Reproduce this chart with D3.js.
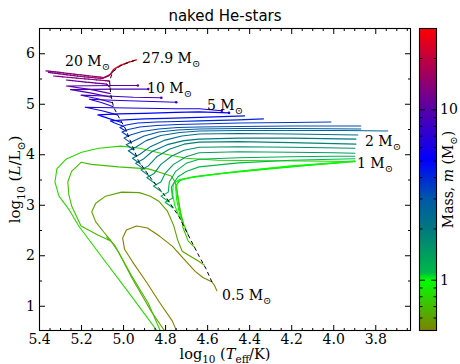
<!DOCTYPE html>
<html><head><meta charset="utf-8">
<script src="https://cdn.jsdelivr.net/npm/d3@7"></script>
<style>body{margin:0;background:#fff}svg{display:block}</style>
</head><body>
<svg id="c" width="460" height="364"></svg>
<script>
// ---------------- DATA ----------------
// axis tick values
const xMajorTicks = [5.4, 5.2, 5.0, 4.8, 4.6, 4.4, 4.2, 4.0, 3.8];
const yMajorTicks = [1, 2, 3, 4, 5, 6];
const cbMajorTicks = [1, 10];
const cbMinorTicks = [0.6, 0.7, 0.8, 0.9, 2, 3, 4, 5, 6, 7, 8, 9, 20];

// colour map for mass
const cmapMass = [0.5, 1.0, 1.1, 2.0, 3.0, 5.0, 10, 30];
const cmapColor = ["#808000", "#00ff00", "#00b848", "#007880", "#0058a8", "#0000ff", "#5800a8", "#ff0000"];

// He zero-age main sequence (dashed)
const zamsLogT = [4.577, 4.605, 4.638, 4.685, 4.733, 4.799, 4.865, 4.927, 4.988, 5.021, 5.045, 5.059, 5.064, 5.050, 5.012, 4.979, 4.936];
const zamsLogL = [1.47, 1.73, 1.98, 2.36, 2.76, 3.17, 3.51, 3.87, 4.50, 4.74, 4.93, 5.19, 5.45, 5.63, 5.75, 5.81, 5.87];

// evolutionary tracks: [log Teff, log L] (optional 3rd value: current mass)
const t05 = [[4.553,1.29],[4.565,1.40],[4.577,1.47],[4.600,1.52],[4.620,1.56],[4.657,1.68],[4.709,1.92],[4.766,2.18],[4.827,2.38],[4.884,2.54],[4.936,2.58],[4.984,2.50],[5.002,2.34],[4.993,2.12],[4.955,1.87],[4.889,1.47],[4.827,1.07],[4.766,0.70],[4.735,0.40]];
const t06 = [[4.612,1.80],[4.640,1.88],[4.680,1.98],[4.719,2.08],[4.740,2.30],[4.760,2.60],[4.790,2.88],[4.830,3.07],[4.870,3.17],[4.922,3.24],[5.007,3.25],[5.083,3.17],[5.130,3.03],[5.149,2.86],[5.130,2.66],[5.092,2.46],[5.060,2.30],[5.020,2.05],[4.955,1.53],[4.865,0.88],[4.785,0.40]];
const t07 = [[4.658,2.15],[4.690,2.28],[4.715,2.55],[4.730,2.95],[4.742,3.25],[4.752,3.45],[4.771,3.57],[4.800,3.61],[4.879,3.71],[5.021,3.75],[5.150,3.80],[5.200,3.84],[5.245,3.66],[5.263,3.45],[5.258,3.20],[5.244,2.97],[5.200,2.58],[5.120,2.40],[5.059,2.28],[5.078,2.36],[5.040,2.20],[4.960,1.60],[4.880,1.05],[4.812,0.40]];
const t08 = [[4.690,2.40],[4.710,2.60],[4.730,2.90],[4.742,3.20],[4.745,3.40],[4.725,3.50],[4.660,3.56],[4.500,3.64],[4.300,3.72],[4.100,3.79],[3.895,3.85],[4.000,3.86],[4.300,3.87],[4.550,3.88],[4.700,3.92],[4.820,4.02],[4.920,4.12],[5.010,4.16],[5.116,4.12],[5.197,4.04],[5.272,3.90],[5.315,3.71],[5.324,3.45],[5.305,3.17],[5.258,2.91],[5.211,2.58],[5.100,1.96],[4.980,1.30],[4.820,0.40]];
const t09 = [[4.714,2.60],[4.730,2.80],[4.745,3.10],[4.750,3.35],[4.735,3.47],[4.680,3.54],[4.550,3.61],[4.300,3.71],[4.100,3.79],[3.895,3.86]];
const t10 = [[4.735,2.78],[4.755,3.00],[4.765,3.25],[4.760,3.42],[4.730,3.50],[4.638,3.56],[4.450,3.66],[4.200,3.77],[4.000,3.83],[3.895,3.87]];
const t11 = [[4.760,2.93],[4.800,3.05],[4.765,3.13],[4.770,3.35],[4.740,3.55],[4.700,3.66],[4.638,3.75],[4.450,3.83],[4.200,3.88],[4.000,3.90],[3.895,3.91]];
const t12 = [[4.779,3.05],[4.820,3.17],[4.785,3.25],[4.780,3.45],[4.750,3.66],[4.700,3.82],[4.638,3.90],[4.450,3.93],[4.200,3.95],[4.000,3.96],[3.895,3.96]];
const t14 = [[4.815,3.25],[4.855,3.37],[4.820,3.45],[4.800,3.62],[4.760,3.80],[4.700,3.95],[4.638,4.03],[4.450,4.05],[4.200,4.04],[4.000,4.03],[3.895,4.02]];
const t16 = [[4.847,3.42],[4.887,3.54],[4.852,3.62],[4.820,3.80],[4.770,3.96],[4.710,4.08],[4.638,4.14],[4.450,4.15],[4.200,4.14],[3.895,4.12]];
const t18 = [[4.875,3.57],[4.915,3.69],[4.880,3.77],[4.840,3.95],[4.780,4.10],[4.710,4.20],[4.638,4.24],[4.450,4.25],[4.200,4.23],[3.890,4.20]];
const t20 = [[4.898,3.70],[4.940,3.82],[4.905,3.90],[4.860,4.06],[4.790,4.19],[4.710,4.27],[4.638,4.30],[4.450,4.32],[4.200,4.32],[3.890,4.30]];
const t22 = [[4.915,3.80],[4.955,3.92],[4.920,4.00],[4.870,4.15],[4.800,4.28],[4.720,4.36],[4.638,4.40],[4.450,4.41],[4.200,4.40],[3.881,4.38]];
const t25 = [[4.935,3.95],[4.975,4.07],[4.940,4.14],[4.890,4.27],[4.820,4.37],[4.730,4.43],[4.638,4.46],[4.450,4.47],[4.200,4.47],[3.950,4.47],[3.739,4.46]];
const t28 = [[4.947,4.08],[4.985,4.19],[4.950,4.26],[4.900,4.36],[4.830,4.44],[4.740,4.48],[4.638,4.50],[4.450,4.51],[4.200,4.51],[3.867,4.50]];
const t32 = [[4.961,4.22],[4.995,4.32],[4.965,4.38],[4.910,4.45],[4.830,4.50],[4.740,4.53],[4.638,4.54],[4.450,4.55],[4.200,4.56],[3.867,4.56]];
const t36 = [[4.974,4.35],[5.005,4.44],[4.975,4.49],[4.920,4.54],[4.840,4.57],[4.740,4.59],[4.638,4.60],[4.450,4.62],[4.200,4.63],[4.009,4.64]];
const t40 = [[4.983,4.45],[5.015,4.53],[4.985,4.58],[4.930,4.62],[4.840,4.64],[4.740,4.65],[4.638,4.66],[4.450,4.68],[4.330,4.70]];
const t45 = [[4.995,4.55],[5.040,4.62],[5.060,4.66],[4.990,4.68],[4.900,4.70],[4.800,4.71],[4.638,4.73],[4.420,4.76]];
const t50 = [[5.006,4.63],[5.070,4.71],[5.120,4.78],[5.020,4.80],[4.900,4.81],[4.750,4.83],[4.638,4.84],[4.496,4.82]];
const t60 = [[5.026,4.78],[5.100,4.86],[5.180,4.93],[5.050,4.92],[4.900,4.91],[4.750,4.90],[4.638,4.90],[4.530,4.86]];
const t70 = [[5.046,4.94],[5.100,5.02],[5.160,5.09],[5.050,5.07],[4.900,5.05],[4.747,5.03]];
const t80 = [[5.050,5.02],[5.120,5.10],[5.200,5.17],[5.050,5.15],[4.950,5.13],[4.818,5.12]];
const t90 = [[5.056,5.13],[5.150,5.21],[5.250,5.28],[5.050,5.29],[4.880,5.29]];
const t100 = [[5.059,5.20],[5.150,5.28],[5.270,5.35],[5.050,5.36],[4.930,5.36]];
const t120 = [[5.062,5.33,12],[5.080,5.39,11.6],[5.180,5.43,11.2],[5.270,5.47,10.9]];
const t150 = [[5.064,5.45,15],[5.090,5.46,13.8],[5.200,5.50,13],[5.330,5.55,12.4]];
const t200 = [[5.050,5.63,20],[5.070,5.55,17.5],[5.100,5.50,15.5],[5.200,5.54,14],[5.300,5.59,13.2],[5.355,5.62,12.8]];
const t279 = [[4.936,5.87,27.9],[4.975,5.82,26],[5.012,5.76,24],[5.045,5.68,21],[5.060,5.58,18],[5.090,5.52,15.5],[5.200,5.57,14],[5.300,5.62,13.3],[5.367,5.65,13]];

const trackMass = [0.5, 0.6, 0.7, 0.8, 0.9, 1.0, 1.1, 1.2, 1.4, 1.6, 1.8, 2.0, 2.2, 2.5, 2.8, 3.2, 3.6, 4.0, 4.5, 5, 6, 7, 8, 9, 10, 12, 15, 20, 27.9];
const trackPoints = [t05, t06, t07, t08, t09, t10, t11, t12, t14, t16, t18, t20, t22, t25, t28, t32, t36, t40, t45, t50, t60, t70, t80, t90, t100, t120, t150, t200, t279];

// mass annotations
const labelMass = ["27.9", "20", "10", "5", "2", "1", "0.5"];
const labelLogT = [4.910, 5.276, 4.886, 4.601, 3.849, 3.887, 4.529];
const labelLogL = [5.807, 5.748, 5.222, 4.876, 4.164, 3.728, 1.114];

// ---------------- DRAW ----------------
const svg = d3.select("#c");
const serif = "'DejaVu Serif', 'Liberation Serif', serif";
const L = 39, R = 411, T = 28, B = 331;
const x = d3.scaleLinear().domain([5.4, 3.63]).range([L, R]);
const y = d3.scaleLinear().domain([0.5, 6.5]).range([B, T]);
const cmap = d3.scaleLog().domain(cmapMass).range(cmapColor).interpolate(d3.interpolateRgb).clamp(true);

const defs = svg.append("defs");
defs.append("clipPath").attr("id", "clip").append("rect")
  .attr("x", L).attr("y", T).attr("width", R - L).attr("height", B - T);

const gT = svg.append("g").attr("clip-path", "url(#clip)");
const line = d3.line().x(d => x(d[0])).y(d => y(d[1]));

trackPoints.forEach((pts, i) => {
  const m0 = trackMass[i];
  const varying = pts.some(p => p.length > 2);
  if (!varying) {
    gT.append("path").attr("d", line(pts)).attr("fill", "none")
      .attr("stroke", cmap(m0)).attr("stroke-width", 1.1)
      .attr("stroke-linejoin", "round");
  } else {
    for (let j = 0; j < pts.length - 1; j++) {
      const a = pts[j], b = pts[j + 1];
      const ma = a[2] ?? m0, mb = b[2] ?? m0;
      const n = 6;
      for (let k = 0; k < n; k++) {
        const f0 = k / n, f1 = (k + 1) / n, fm = (f0 + f1) / 2;
        gT.append("line")
          .attr("x1", x(a[0] + (b[0] - a[0]) * f0)).attr("y1", y(a[1] + (b[1] - a[1]) * f0))
          .attr("x2", x(a[0] + (b[0] - a[0]) * f1)).attr("y2", y(a[1] + (b[1] - a[1]) * f1))
          .attr("stroke", cmap(ma + (mb - ma) * fm)).attr("stroke-width", 1.2)
          .attr("stroke-linecap", "round");
      }
    }
  }
  if (m0 >= 5 && m0 <= 10) {
    const e = pts[pts.length - 1];
    gT.append("circle").attr("cx", x(e[0])).attr("cy", y(e[1])).attr("r", 1.3).attr("fill", cmap(m0));
  }
});

// ZAMS
gT.append("path").attr("d", line(zamsLogT.map((t, i) => [t, zamsLogL[i]])))
  .attr("fill", "none").attr("stroke", "#000").attr("stroke-width", 1)
  .attr("stroke-dasharray", "4,3");

// rich text helper
function rich(sel, parts, size) {
  let shift = 0;
  parts.forEach(p => {
    const ts = sel.append("tspan").text(p.t);
    const target = p.sub ? size * 0.3 : 0;
    if (target - shift !== 0) ts.attr("dy", target - shift);
    shift = target;
    if (p.sub) ts.attr("font-size", size * 0.72);
    if (p.it) ts.attr("font-style", "italic");
  });
}

// annotations
labelMass.forEach((lab, i) => {
  const t = svg.append("text").attr("x", x(labelLogT[i])).attr("y", y(labelLogL[i]))
    .attr("font-family", serif).attr("font-size", 14).attr("fill", "#000");
  rich(t, [{t: lab + " M"}, {t: "\u2299", sub: true}], 14);
});

// axes
const xMinor = d3.range(5.35, 3.62, -0.05).filter(v => !xMajorTicks.some(m => Math.abs(m - v) < 1e-6));
const yMinor = [1.5, 2.5, 3.5, 4.5, 5.5];
function style(g) {
  g.select(".domain").remove();
  g.selectAll("line").attr("stroke", "#000");
  g.selectAll("text").attr("font-family", serif).attr("font-size", 14).attr("fill", "#000");
}
svg.append("g").attr("transform", `translate(0,${B})`)
  .call(d3.axisBottom(x).tickValues(xMajorTicks).tickSizeInner(-6).tickSizeOuter(0).tickPadding(3).tickFormat(d3.format(".1f"))).call(style);
svg.append("g").attr("transform", `translate(0,${B})`)
  .call(d3.axisBottom(x).tickValues(xMinor).tickSizeInner(-3).tickSizeOuter(0).tickFormat("")).call(style);
svg.append("g").attr("transform", `translate(0,${T})`)
  .call(d3.axisTop(x).tickValues(xMajorTicks).tickSizeInner(-6).tickSizeOuter(0).tickFormat("")).call(style);
svg.append("g").attr("transform", `translate(0,${T})`)
  .call(d3.axisTop(x).tickValues(xMinor).tickSizeInner(-3).tickSizeOuter(0).tickFormat("")).call(style);
svg.append("g").attr("transform", `translate(${L},0)`)
  .call(d3.axisLeft(y).tickValues(yMajorTicks).tickSizeInner(-6).tickSizeOuter(0).tickPadding(4).tickFormat(d3.format("d"))).call(style);
svg.append("g").attr("transform", `translate(${L},0)`)
  .call(d3.axisLeft(y).tickValues(yMinor).tickSizeInner(-3).tickSizeOuter(0).tickFormat("")).call(style);
svg.append("g").attr("transform", `translate(${R},0)`)
  .call(d3.axisRight(y).tickValues(yMajorTicks).tickSizeInner(-6).tickSizeOuter(0).tickFormat("")).call(style);
svg.append("g").attr("transform", `translate(${R},0)`)
  .call(d3.axisRight(y).tickValues(yMinor).tickSizeInner(-3).tickSizeOuter(0).tickFormat("")).call(style);

svg.append("rect").attr("x", L + 0.5).attr("y", T + 0.5).attr("width", R - L - 1).attr("height", B - T - 1)
  .attr("fill", "none").attr("stroke", "#000").attr("stroke-width", 1.1);

// title & axis labels
svg.append("text").attr("x", (L + R) / 2).attr("y", 21).attr("text-anchor", "middle")
  .attr("font-family", "'DejaVu Sans', sans-serif").attr("font-size", 15).text("naked He-stars");

const xl = svg.append("text").attr("x", (L + R) / 2).attr("y", 359).attr("text-anchor", "middle")
  .attr("font-family", serif).attr("font-size", 14.5);
rich(xl, [{t: "log"}, {t: "10", sub: true}, {t: " ("}, {t: "T", it: true}, {t: "eff", sub: true}, {t: "/K)"}], 14.5);

const yl = svg.append("text").attr("transform", `translate(20,${(T + B) / 2}) rotate(-90)`).attr("text-anchor", "middle")
  .attr("font-family", serif).attr("font-size", 15);
rich(yl, [{t: "log"}, {t: "10", sub: true}, {t: " ("}, {t: "L", it: true}, {t: "/L"}, {t: "\u2299", sub: true}, {t: ")"}], 15);

// colorbar
const cbL = 419, cbR = 437;
const cb = d3.scaleLog().domain([0.5, 30]).range([B, T]);
const grad = defs.append("linearGradient").attr("id", "cbg")
  .attr("x1", 0).attr("y1", 1).attr("x2", 0).attr("y2", 0);
const lmin = Math.log10(0.5), lmax = Math.log10(30);
cmapMass.forEach((m, i) => {
  grad.append("stop").attr("offset", (Math.log10(m) - lmin) / (lmax - lmin)).attr("stop-color", cmapColor[i]);
});
svg.append("rect").attr("x", cbL).attr("y", T).attr("width", cbR - cbL).attr("height", B - T).attr("fill", "url(#cbg)");
svg.append("g").attr("transform", `translate(${cbL},0)`)
  .call(d3.axisLeft(cb).tickValues(cbMajorTicks).tickSizeInner(-6).tickSizeOuter(0).tickFormat("")).call(style);
svg.append("g").attr("transform", `translate(${cbL},0)`)
  .call(d3.axisLeft(cb).tickValues(cbMinorTicks).tickSizeInner(-3.5).tickSizeOuter(0).tickFormat("")).call(style);
svg.append("g").attr("transform", `translate(${cbR},0)`)
  .call(d3.axisRight(cb).tickValues(cbMajorTicks).tickSizeInner(-6).tickSizeOuter(0).tickPadding(3).tickFormat(d3.format("d"))).call(style);
svg.append("g").attr("transform", `translate(${cbR},0)`)
  .call(d3.axisRight(cb).tickValues(cbMinorTicks).tickSizeInner(-3.5).tickSizeOuter(0).tickFormat("")).call(style);
svg.append("rect").attr("x", cbL + 0.5).attr("y", T + 0.5).attr("width", cbR - cbL - 1).attr("height", B - T - 1)
  .attr("fill", "none").attr("stroke", "#000").attr("stroke-width", 1.1);

const cl = svg.append("text").attr("transform", `translate(453,${(T + B) / 2}) rotate(-90)`).attr("text-anchor", "middle")
  .attr("font-family", serif).attr("font-size", 14);
rich(cl, [{t: "Mass, "}, {t: "m", it: true}, {t: " (M"}, {t: "\u2299", sub: true}, {t: ")"}], 14);
</script>
</body></html>
